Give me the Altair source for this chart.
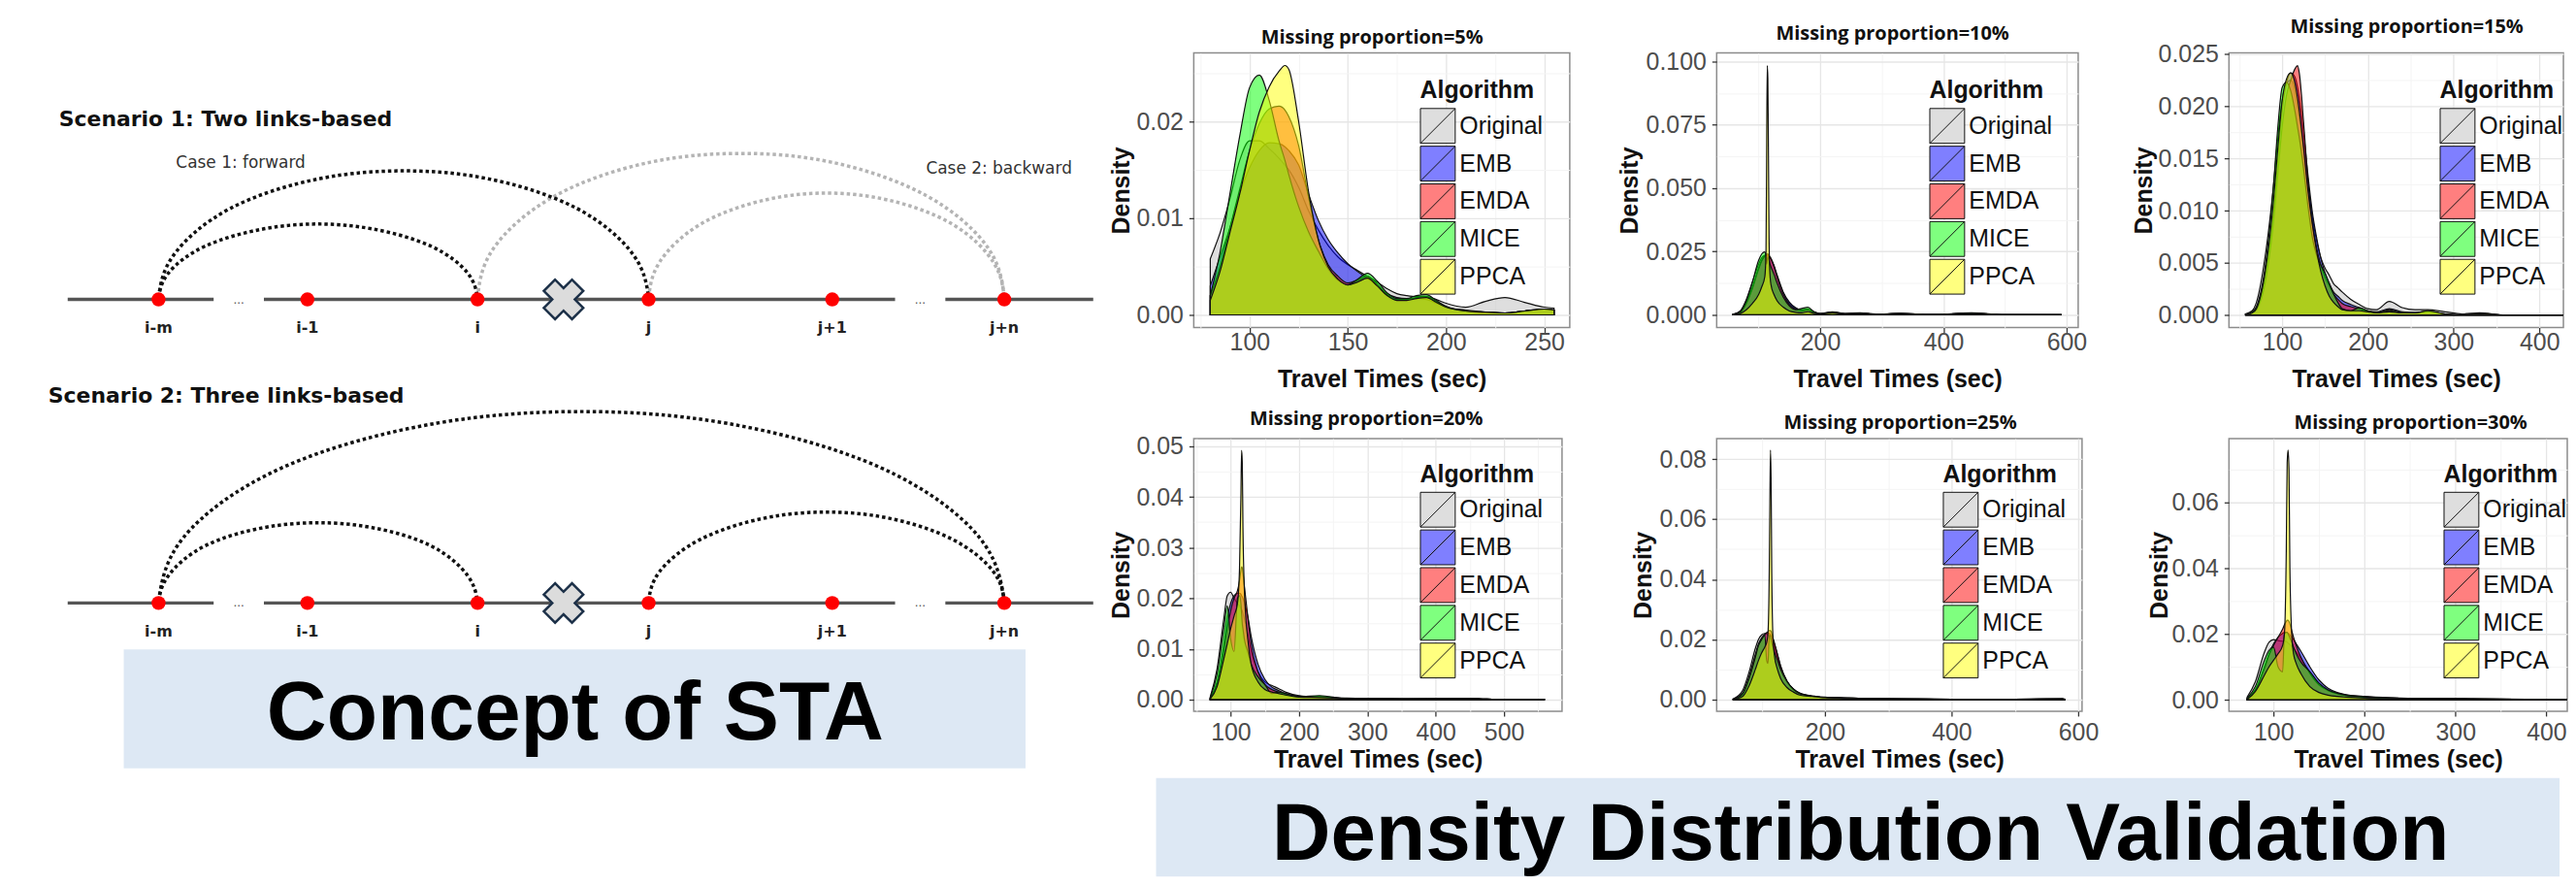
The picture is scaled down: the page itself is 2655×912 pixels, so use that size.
import altair as alt
import pandas as pd

# ---------------- density panels data ----------------
ALGS = ["Original", "EMB", "EMDA", "MICE", "PPCA"]
ALG_COLORS = ["#bebebe", "#0000ff", "#ff0000", "#00ff00", "#ffff00"]
ALG_KEY_COLORS = ["#dedede", "#7f7fff", "#ff7f7f", "#7fff7f", "#ffff7f"]

P1_X = [80, 85, 90, 95, 100, 105, 110, 115, 118, 120, 125, 130, 135, 140, 145, 150, 155, 160, 165, 170, 175, 180, 185, 190, 195, 200, 210, 220, 230, 240, 250, 255]
P1_ORIGINAL = [0.0058, 0.0085, 0.0120, 0.0160, 0.0180, 0.0180, 0.0172, 0.0162, 0.0155, 0.0150, 0.0132, 0.0108, 0.0088, 0.0072, 0.0060, 0.0052, 0.0046, 0.0040, 0.0034, 0.0027, 0.0022, 0.0020, 0.0019, 0.0019, 0.0016, 0.0012, 0.0008, 0.0014, 0.0018, 0.0013, 0.0008, 0.0007]
P1_EMB = [0.0030, 0.0060, 0.0090, 0.0125, 0.0152, 0.0170, 0.0178, 0.0177, 0.0174, 0.0170, 0.0155, 0.0125, 0.0098, 0.0078, 0.0064, 0.0053, 0.0045, 0.0038, 0.0030, 0.0022, 0.0018, 0.0017, 0.0017, 0.0016, 0.0012, 0.0008, 0.0005, 0.0003, 0.0002, 0.0004, 0.0006, 0.0005]
P1_EMDA = [0.0020, 0.0050, 0.0090, 0.0130, 0.0170, 0.0198, 0.0213, 0.0216, 0.0212, 0.0205, 0.0175, 0.0122, 0.0078, 0.0052, 0.0040, 0.0033, 0.0036, 0.0040, 0.0032, 0.0021, 0.0016, 0.0016, 0.0018, 0.0019, 0.0014, 0.0008, 0.0004, 0.0003, 0.0002, 0.0004, 0.0006, 0.0005]
P1_MICE = [0.0020, 0.0065, 0.0125, 0.0185, 0.0235, 0.0248, 0.0222, 0.0180, 0.0160, 0.0145, 0.0112, 0.0086, 0.0066, 0.0048, 0.0036, 0.0031, 0.0037, 0.0043, 0.0035, 0.0023, 0.0017, 0.0017, 0.0020, 0.0021, 0.0015, 0.0009, 0.0004, 0.0002, 0.0002, 0.0004, 0.0006, 0.0005]
P1_PPCA = [0.0015, 0.0045, 0.0085, 0.0125, 0.0170, 0.0210, 0.0236, 0.0252, 0.0258, 0.0254, 0.0200, 0.0128, 0.0078, 0.0050, 0.0037, 0.0031, 0.0034, 0.0038, 0.0030, 0.0020, 0.0015, 0.0015, 0.0017, 0.0018, 0.0013, 0.0008, 0.0004, 0.0003, 0.0002, 0.0004, 0.0006, 0.0005]

P2_X = [58, 70, 80, 90, 100, 105, 110, 112, 113, 114, 115, 116, 117, 118, 120, 125, 130, 140, 150, 160, 170, 180, 190, 200, 220, 240, 265, 290, 330, 380, 445, 500, 592]
P2_ORIGINAL = [0.0002, 0.0015, 0.0060, 0.0130, 0.0200, 0.0225, 0.0235, 0.0236, 0.0236, 0.0235, 0.0234, 0.0232, 0.0230, 0.0227, 0.0220, 0.0190, 0.0150, 0.0085, 0.0045, 0.0025, 0.0020, 0.0022, 0.0012, 0.0005, 0.0012, 0.0005, 0.0008, 0.0003, 0.0006, 0.0001, 0.0008, 0.0001, 0.0000]
P2_EMB = [0.0001, 0.0010, 0.0045, 0.0110, 0.0185, 0.0215, 0.0232, 0.0234, 0.0235, 0.0235, 0.0234, 0.0233, 0.0231, 0.0228, 0.0222, 0.0195, 0.0158, 0.0090, 0.0050, 0.0028, 0.0018, 0.0020, 0.0010, 0.0004, 0.0010, 0.0004, 0.0006, 0.0002, 0.0005, 0.0001, 0.0006, 0.0000, 0.0000]
P2_EMDA = [0.0001, 0.0010, 0.0045, 0.0105, 0.0180, 0.0212, 0.0232, 0.0238, 0.0240, 0.0241, 0.0240, 0.0238, 0.0235, 0.0230, 0.0222, 0.0190, 0.0150, 0.0082, 0.0040, 0.0022, 0.0016, 0.0020, 0.0010, 0.0004, 0.0010, 0.0004, 0.0006, 0.0002, 0.0005, 0.0001, 0.0006, 0.0000, 0.0000]
P2_MICE = [0.0001, 0.0012, 0.0055, 0.0130, 0.0215, 0.0240, 0.0248, 0.0230, 0.0200, 0.0215, 0.0230, 0.0225, 0.0215, 0.0205, 0.0190, 0.0160, 0.0125, 0.0070, 0.0035, 0.0020, 0.0025, 0.0030, 0.0012, 0.0004, 0.0010, 0.0004, 0.0006, 0.0002, 0.0005, 0.0001, 0.0006, 0.0000, 0.0000]
P2_PPCA = [0.0000, 0.0005, 0.0020, 0.0045, 0.0080, 0.0110, 0.0150, 0.0250, 0.0620, 0.0984, 0.0934, 0.0620, 0.0300, 0.0180, 0.0120, 0.0080, 0.0055, 0.0030, 0.0015, 0.0010, 0.0008, 0.0012, 0.0006, 0.0003, 0.0008, 0.0002, 0.0005, 0.0001, 0.0004, 0.0001, 0.0005, 0.0000, 0.0000]

P3_X = [57, 65, 70, 80, 90, 95, 100, 105, 110, 115, 118, 120, 125, 130, 135, 140, 145, 150, 155, 160, 165, 170, 180, 190, 200, 210, 225, 240, 255, 270, 290, 310, 330, 360, 400, 437]
P3_ORIGINAL = [0.0001, 0.0004, 0.0012, 0.0055, 0.0125, 0.0170, 0.0205, 0.0222, 0.0225, 0.0215, 0.0200, 0.0190, 0.0160, 0.0125, 0.0095, 0.0072, 0.0055, 0.0045, 0.0038, 0.0030, 0.0026, 0.0022, 0.0015, 0.0010, 0.0006, 0.0005, 0.0013, 0.0007, 0.0005, 0.0005, 0.0003, 0.0001, 0.0002, 0.0000, 0.0000, 0.0000]
P3_EMB = [0.0000, 0.0002, 0.0006, 0.0035, 0.0100, 0.0150, 0.0195, 0.0222, 0.0232, 0.0228, 0.0218, 0.0208, 0.0175, 0.0135, 0.0100, 0.0075, 0.0055, 0.0040, 0.0030, 0.0022, 0.0018, 0.0014, 0.0010, 0.0007, 0.0004, 0.0003, 0.0006, 0.0003, 0.0002, 0.0003, 0.0001, 0.0000, 0.0001, 0.0000, 0.0000, 0.0000]
P3_EMDA = [0.0000, 0.0002, 0.0005, 0.0030, 0.0090, 0.0135, 0.0180, 0.0210, 0.0225, 0.0236, 0.0239, 0.0232, 0.0185, 0.0130, 0.0090, 0.0065, 0.0048, 0.0036, 0.0028, 0.0020, 0.0015, 0.0011, 0.0008, 0.0006, 0.0003, 0.0002, 0.0005, 0.0002, 0.0002, 0.0003, 0.0001, 0.0000, 0.0001, 0.0000, 0.0000, 0.0000]
P3_MICE = [0.0000, 0.0003, 0.0008, 0.0045, 0.0125, 0.0180, 0.0218, 0.0223, 0.0215, 0.0195, 0.0180, 0.0170, 0.0140, 0.0105, 0.0075, 0.0058, 0.0048, 0.0040, 0.0030, 0.0020, 0.0012, 0.0006, 0.0004, 0.0007, 0.0004, 0.0002, 0.0004, 0.0002, 0.0002, 0.0004, 0.0001, 0.0000, 0.0001, 0.0000, 0.0000, 0.0000]
P3_PPCA = [0.0000, 0.0002, 0.0006, 0.0040, 0.0110, 0.0160, 0.0205, 0.0226, 0.0232, 0.0222, 0.0208, 0.0196, 0.0160, 0.0120, 0.0088, 0.0062, 0.0042, 0.0028, 0.0018, 0.0012, 0.0008, 0.0005, 0.0004, 0.0004, 0.0003, 0.0002, 0.0003, 0.0002, 0.0002, 0.0004, 0.0001, 0.0000, 0.0001, 0.0000, 0.0000, 0.0000]

P4_X = [70, 80, 90, 95, 100, 105, 110, 113, 115, 116, 117, 118, 120, 125, 130, 140, 150, 160, 170, 180, 200, 230, 270, 310, 360, 450, 500, 560]
P4_ORIGINAL = [0.0005, 0.0060, 0.0160, 0.0205, 0.0212, 0.0200, 0.0190, 0.0185, 0.0180, 0.0178, 0.0175, 0.0170, 0.0160, 0.0130, 0.0095, 0.0055, 0.0035, 0.0028, 0.0022, 0.0015, 0.0008, 0.0005, 0.0003, 0.0002, 0.0002, 0.0002, 0.0000, 0.0000]
P4_EMB = [0.0002, 0.0035, 0.0110, 0.0160, 0.0190, 0.0205, 0.0210, 0.0210, 0.0208, 0.0205, 0.0203, 0.0200, 0.0192, 0.0165, 0.0125, 0.0070, 0.0040, 0.0025, 0.0018, 0.0012, 0.0007, 0.0006, 0.0002, 0.0002, 0.0001, 0.0002, 0.0000, 0.0000]
P4_EMDA = [0.0002, 0.0030, 0.0095, 0.0140, 0.0175, 0.0200, 0.0215, 0.0235, 0.0255, 0.0262, 0.0260, 0.0250, 0.0225, 0.0165, 0.0110, 0.0055, 0.0030, 0.0020, 0.0015, 0.0010, 0.0006, 0.0006, 0.0002, 0.0002, 0.0001, 0.0002, 0.0000, 0.0000]
P4_MICE = [0.0003, 0.0050, 0.0140, 0.0185, 0.0120, 0.0095, 0.0200, 0.0205, 0.0190, 0.0170, 0.0150, 0.0140, 0.0120, 0.0095, 0.0070, 0.0045, 0.0030, 0.0012, 0.0015, 0.0012, 0.0006, 0.0008, 0.0002, 0.0002, 0.0001, 0.0002, 0.0000, 0.0000]
P4_PPCA = [0.0001, 0.0025, 0.0080, 0.0110, 0.0140, 0.0165, 0.0190, 0.0260, 0.0400, 0.0492, 0.0470, 0.0340, 0.0220, 0.0120, 0.0070, 0.0035, 0.0020, 0.0015, 0.0012, 0.0009, 0.0005, 0.0004, 0.0002, 0.0001, 0.0001, 0.0001, 0.0000, 0.0000]

P5_X = [55, 70, 80, 90, 95, 100, 105, 108, 110, 112, 113, 114, 115, 116, 118, 120, 125, 130, 140, 150, 160, 180, 200, 230, 270, 320, 400, 500, 575, 580]
P5_ORIGINAL = [0.0002, 0.0030, 0.0090, 0.0170, 0.0200, 0.0215, 0.0220, 0.0218, 0.0215, 0.0210, 0.0207, 0.0203, 0.0200, 0.0195, 0.0185, 0.0175, 0.0140, 0.0105, 0.0060, 0.0035, 0.0022, 0.0012, 0.0008, 0.0006, 0.0003, 0.0003, 0.0001, 0.0001, 0.0003, 0.0000]
P5_EMB = [0.0001, 0.0020, 0.0075, 0.0150, 0.0185, 0.0205, 0.0218, 0.0222, 0.0222, 0.0220, 0.0218, 0.0215, 0.0212, 0.0208, 0.0198, 0.0186, 0.0150, 0.0112, 0.0062, 0.0035, 0.0020, 0.0011, 0.0007, 0.0005, 0.0003, 0.0002, 0.0001, 0.0001, 0.0002, 0.0000]
P5_EMDA = [0.0001, 0.0018, 0.0070, 0.0145, 0.0180, 0.0200, 0.0215, 0.0222, 0.0226, 0.0229, 0.0230, 0.0229, 0.0226, 0.0220, 0.0205, 0.0190, 0.0150, 0.0110, 0.0060, 0.0034, 0.0020, 0.0011, 0.0007, 0.0005, 0.0003, 0.0002, 0.0001, 0.0001, 0.0002, 0.0000]
P5_MICE = [0.0001, 0.0020, 0.0070, 0.0140, 0.0180, 0.0200, 0.0215, 0.0130, 0.0120, 0.0210, 0.0215, 0.0210, 0.0200, 0.0190, 0.0175, 0.0160, 0.0130, 0.0100, 0.0060, 0.0035, 0.0020, 0.0011, 0.0007, 0.0005, 0.0003, 0.0002, 0.0001, 0.0001, 0.0002, 0.0000]
P5_PPCA = [0.0000, 0.0010, 0.0045, 0.0100, 0.0130, 0.0155, 0.0175, 0.0190, 0.0220, 0.0420, 0.0660, 0.0830, 0.0720, 0.0420, 0.0200, 0.0150, 0.0100, 0.0070, 0.0040, 0.0025, 0.0015, 0.0010, 0.0006, 0.0004, 0.0002, 0.0001, 0.0001, 0.0000, 0.0001, 0.0000]

P6_X = [71, 80, 90, 95, 100, 105, 110, 112, 114, 115, 116, 117, 118, 120, 122, 125, 130, 140, 150, 160, 170, 180, 200, 230, 260, 300, 330, 400, 452]
P6_ORIGINAL = [0.0008, 0.0055, 0.0145, 0.0175, 0.0183, 0.0180, 0.0178, 0.0178, 0.0177, 0.0175, 0.0172, 0.0170, 0.0168, 0.0162, 0.0155, 0.0145, 0.0125, 0.0085, 0.0050, 0.0030, 0.0020, 0.0015, 0.0010, 0.0006, 0.0004, 0.0004, 0.0003, 0.0001, 0.0000]
P6_EMB = [0.0003, 0.0030, 0.0100, 0.0140, 0.0170, 0.0190, 0.0202, 0.0205, 0.0205, 0.0204, 0.0202, 0.0200, 0.0197, 0.0190, 0.0183, 0.0170, 0.0148, 0.0100, 0.0060, 0.0035, 0.0022, 0.0015, 0.0009, 0.0005, 0.0004, 0.0003, 0.0002, 0.0001, 0.0000]
P6_EMDA = [0.0003, 0.0030, 0.0095, 0.0135, 0.0165, 0.0190, 0.0215, 0.0228, 0.0238, 0.0242, 0.0242, 0.0238, 0.0230, 0.0210, 0.0190, 0.0165, 0.0130, 0.0080, 0.0045, 0.0028, 0.0018, 0.0013, 0.0008, 0.0005, 0.0004, 0.0003, 0.0002, 0.0001, 0.0000]
P6_MICE = [0.0005, 0.0040, 0.0120, 0.0150, 0.0160, 0.0100, 0.0085, 0.0200, 0.0205, 0.0205, 0.0200, 0.0195, 0.0188, 0.0175, 0.0160, 0.0140, 0.0115, 0.0085, 0.0050, 0.0030, 0.0020, 0.0014, 0.0009, 0.0005, 0.0004, 0.0003, 0.0002, 0.0001, 0.0000]
P6_PPCA = [0.0001, 0.0025, 0.0075, 0.0100, 0.0120, 0.0140, 0.0165, 0.0200, 0.0450, 0.0720, 0.0759, 0.0700, 0.0400, 0.0200, 0.0140, 0.0110, 0.0080, 0.0040, 0.0022, 0.0014, 0.0010, 0.0008, 0.0005, 0.0003, 0.0002, 0.0002, 0.0001, 0.0000, 0.0000]

PANEL_TITLES = ["Missing proportion=5%", "Missing proportion=10%", "Missing proportion=15%",
                "Missing proportion=20%", "Missing proportion=25%", "Missing proportion=30%"]

# ---------------- concept diagram data (diagram units = page pixels) ----------------
NODE_LABELS = ["i-m", "i-1", "i", "j", "j+1", "j+n"]
NODE_X = [163, 317, 493, 670, 860, 1038]
LINK_Y = [307, 621]
LABEL_Y = [337, 651]
SEG_START = [69, 272, 977]
SEG_END = [220, 925, 1130]
ELLIPSIS_X = [246, 951]
MISSING_X = 582

ARC_IDS = ["A1", "A2", "A3", "A4", "B1", "B2", "B3"]
ARC_SCENARIO = [1, 1, 1, 1, 2, 2, 2]
ARC_KIND = ["solid", "solid", "faded", "faded", "solid", "solid", "solid"]
ARC_X = [
    [163, 178, 237, 330, 417, 503, 596, 655, 670],
    [163, 173, 211, 272, 328, 384, 445, 483, 493],
    [493, 509, 573, 672, 766, 859, 958, 1022, 1038],
    [670, 681, 724, 791, 854, 917, 984, 1027, 1038],
    [163, 189, 291, 451, 601, 750, 910, 1012, 1038],
    [163, 173, 211, 272, 328, 384, 445, 483, 493],
    [670, 681, 724, 791, 854, 917, 984, 1027, 1038],
]
ARC_Y = [
    [305, 262, 213, 182, 174, 182, 213, 262, 305],
    [305, 280, 252, 234, 229, 234, 252, 280, 305],
    [305, 255, 200, 165, 156, 165, 200, 255, 305],
    [305, 269, 229, 204, 197, 204, 229, 269, 305],
    [619, 553, 481, 435, 423, 435, 481, 553, 619],
    [619, 593, 562, 543, 538, 543, 562, 593, 619],
    [619, 589, 555, 533, 527, 533, 555, 589, 619],
]
SCENARIO_TITLES = ["Scenario 1: Two links-based", "Scenario 2: Three links-based"]
SCENARIO_TITLE_X = [60, 49]
SCENARIO_TITLE_Y = [121, 407]
CASE_TEXT = ["Case 1: forward", "Case 2: backward"]
CASE_X = [181, 957]
CASE_Y = [166, 172]
CONCEPT_TEXT = "Concept of STA"
CONCEPT_BOX = [127, 1060, 669, 792]
CONCEPT_TEXT_POS = [594, 762]
VALID_TEXT = "Density Distribution Validation"
VALID_BOX = [1195, 2647, 802, 904]
VALID_TEXT_POS = [1924, 887]

SANS = "Liberation Sans, Arial, sans-serif"
LEGEND_PATH = "M-1,-1H1V1H-1Z M-1,1L1,-1"
NOFRAME = alt.ViewBackground(stroke="transparent")


def minor_values(ticks, dom):
    step = ticks[1] - ticks[0]
    cands = [ticks[0] - step / 2] + [t + step / 2 for t in ticks]
    return [round(v, 6) for v in cands if dom[0] < v < dom[1]]


def density_panel(title, xs, series, xdom, ydom, xticks, yticks, yfmt, width, height,
                  legend_x, legend_y, y_title_x, x_label_pad, x_title_y, title_dx):
    xsc = alt.Scale(domain=xdom, nice=False, zero=False)
    ysc = alt.Scale(domain=ydom, nice=False, zero=False)
    legend = alt.Legend(
        title="Algorithm", orient="none", legendX=legend_x, legendY=legend_y,
        symbolType=LEGEND_PATH, symbolSize=1296, symbolStrokeColor="#111111",
        symbolStrokeWidth=1, symbolOpacity=1, labelFont=SANS, labelFontSize=25,
        labelColor="#111111", labelOffset=4, titleFont=SANS, titleFontSize=25,
        titleFontWeight="bold", titleColor="#111111", titlePadding=5, rowPadding=-6, padding=0)
    x_axis = alt.Axis(values=xticks, format="d", grid=True, gridColor="#e6e6e6", gridWidth=1.3,
                      domain=False, ticks=True, tickColor="#333333", tickSize=5, tickWidth=1.3,
                      labelFont=SANS, labelFontSize=25, labelColor="#4d4d4d",
                      labelPadding=x_label_pad, labelFlush=False, labelOverlap=False,
                      title="Travel Times (sec)", titleFont=SANS, titleFontSize=25,
                      titleFontWeight="bold", titleColor="#111111",
                      titleY=x_title_y, titleBaseline="alphabetic")
    y_axis = alt.Axis(values=yticks, format=yfmt, grid=True, gridColor="#e6e6e6", gridWidth=1.3,
                      domain=False, ticks=True, tickColor="#333333", tickSize=5, tickWidth=1.3,
                      labelFont=SANS, labelFontSize=25, labelColor="#4d4d4d", labelPadding=6,
                      labelFlush=False, labelOverlap=False,
                      title="Density", titleFont=SANS, titleFontSize=25, titleFontWeight="bold",
                      titleColor="#111111", titleX=y_title_x, titleBaseline="alphabetic")
    x_minor = alt.Axis(orient="top", values=minor_values(xticks, xdom), grid=True,
                       gridColor="#f4f4f4", gridWidth=1, labels=False, ticks=False,
                       domain=False, title=None, minExtent=0, maxExtent=0)
    y_minor = alt.Axis(orient="right", values=minor_values(yticks, ydom), grid=True,
                       gridColor="#f4f4f4", gridWidth=1, labels=False, ticks=False,
                       domain=False, title=None, minExtent=0, maxExtent=0)

    # legend keys (ggplot shows the 50% fills composited on white); rows carry no position
    keys = pd.DataFrame({"t": [None] * len(ALGS), "d": [None] * len(ALGS), "alg": ALGS})
    layers = [
        alt.Chart(keys).mark_square(filled=True, opacity=1, stroke="#111111", strokeWidth=1).encode(
            x=alt.X("t:Q", scale=xsc, axis=x_minor),
            y=alt.Y("d:Q", scale=ysc, axis=y_minor),
            color=alt.Color("alg:N", scale=alt.Scale(domain=ALGS, range=ALG_KEY_COLORS), legend=legend),
        )
    ]
    for i, (alg, col, vals) in enumerate(zip(ALGS, ALG_COLORS, series)):
        df = pd.DataFrame({"t": xs, "d": vals})
        layers.append(
            alt.Chart(df).mark_area(interpolate="monotone", fill=col, fillOpacity=0.5, stroke="#111111",
                                    strokeWidth=1.2, clip=True).encode(
                x=alt.X("t:Q", scale=xsc, axis=x_axis if i == 0 else None),
                y=alt.Y("d:Q", stack=None, scale=ysc, axis=y_axis if i == 0 else None),
            )
        )
    return alt.layer(*layers).resolve_axis(x="independent", y="independent").properties(
        width=width, height=height,
        title=alt.TitleParams(text=title, font="Open Sans", fontSize=20, fontWeight="bold",
                              color="#111111", anchor="middle", frame="group", dx=title_dx, offset=6),
        view=alt.ViewBackground(stroke="#8c8c8c", strokeWidth=1.5, fill="white"),
    )


p1 = density_panel(PANEL_TITLES[0], P1_X, [P1_ORIGINAL, P1_EMB, P1_EMDA, P1_MICE, P1_PPCA],
                   [71.6, 263], [-0.0013, 0.0271], [100, 150, 200, 250], [0, 0.01, 0.02], ".2f",
                   389, 284, 234, 27, -67, -2, 61, -10)
p2 = density_panel(PANEL_TITLES[1], P2_X, [P2_ORIGINAL, P2_EMB, P2_EMDA, P2_MICE, P2_PPCA],
                   [31.9, 618.9], [-0.005, 0.1034], [200, 400, 600], [0, 0.025, 0.05, 0.075, 0.1], ".3f",
                   374, 284, 220, 27, -82, -2, 61, -5)
p3 = density_panel(PANEL_TITLES[2], P3_X, [P3_ORIGINAL, P3_EMB, P3_EMDA, P3_MICE, P3_PPCA],
                   [38, 428], [-0.0012, 0.02512], [100, 200, 300, 400],
                   [0, 0.005, 0.01, 0.015, 0.02, 0.025], ".3f",
                   346, 284, 218, 27, -80, -2, 61, 11)
p4 = density_panel(PANEL_TITLES[3], P4_X, [P4_ORIGINAL, P4_EMB, P4_EMDA, P4_MICE, P4_PPCA],
                   [46, 585], [-0.0023, 0.0515], [100, 200, 300, 400, 500],
                   [0, 0.01, 0.02, 0.03, 0.04, 0.05], ".2f",
                   381, 282, 234, 25, -67, 5, 58, -12)
p5 = density_panel(PANEL_TITLES[4], P5_X, [P5_ORIGINAL, P5_EMB, P5_EMDA, P5_MICE, P5_PPCA],
                   [29, 606], [-0.0039, 0.0868], [200, 400, 600], [0, 0.02, 0.04, 0.06, 0.08], ".2f",
                   378, 282, 234, 25, -68, 5, 58, 1)
p6 = density_panel(PANEL_TITLES[5], P6_X, [P6_ORIGINAL, P6_EMB, P6_EMDA, P6_MICE, P6_PPCA],
                   [51, 423], [-0.0035, 0.0794], [100, 200, 300, 400], [0, 0.02, 0.04, 0.06], ".2f",
                   350, 282, 222, 25, -64, 5, 58, 13)


# ---------------- concept diagram ----------------
def diagram(scen, ydom, height, with_box):
    k = scen - 1
    xsc = alt.Scale(domain=[8, 1082], nice=False, zero=False)
    ysc = alt.Scale(domain=ydom, nice=False, zero=False, reverse=True)

    def X(f):
        return alt.X(f, type="quantitative", scale=xsc, axis=None)

    def Y(f):
        return alt.Y(f, type="quantitative", scale=ysc, axis=None)

    layers = []
    if with_box:
        box = pd.DataFrame({"x": [CONCEPT_BOX[0]], "x2": [CONCEPT_BOX[1]],
                            "y": [CONCEPT_BOX[2]], "y2": [CONCEPT_BOX[3]]})
        layers.append(alt.Chart(box).mark_rect(fill="#dde8f4").encode(
            x=X("x"), x2="x2", y=Y("y"), y2="y2"))
        ct = pd.DataFrame({"x": [CONCEPT_TEXT_POS[0]], "y": [CONCEPT_TEXT_POS[1]], "s": [CONCEPT_TEXT]})
        layers.append(alt.Chart(ct).mark_text(font=SANS, fontSize=86, fontWeight="bold", color="#000000",
                                              align="center", baseline="alphabetic").encode(
            x=X("x"), y=Y("y"), text="s:N"))
    else:
        anchor = pd.DataFrame({"x": [8], "x2": [20], "y": [8], "y2": [52]})
        layers.append(alt.Chart(anchor).mark_rect(fill="white").encode(
            x=X("x"), x2="x2", y=Y("y"), y2="y2"))

    seg = pd.DataFrame({"x": SEG_START, "x2": SEG_END, "y": [LINK_Y[k]] * len(SEG_START)})
    layers.append(alt.Chart(seg).mark_rule(color="#555555", strokeWidth=3.5).encode(
        x=X("x"), x2="x2", y=Y("y")))

    rows = []
    for aid, sc, kind, xs_, ys_ in zip(ARC_IDS, ARC_SCENARIO, ARC_KIND, ARC_X, ARC_Y):
        if sc != scen:
            continue
        for i, (a, b) in enumerate(zip(xs_, ys_)):
            rows.append({"arc": aid, "kind": kind, "o": i, "x": a, "y": b})
    arcs = pd.DataFrame(rows)
    for kind, col in [("faded", "#b4b4b4"), ("solid", "#111111")]:
        sub = arcs[arcs["kind"] == kind]
        if len(sub) == 0:
            continue
        layers.append(alt.Chart(sub).mark_line(interpolate="natural", color=col, strokeWidth=3.5,
                                               strokeDash=[3.5, 3]).encode(
            x=X("x"), y=Y("y"), detail="arc:N", order="o:Q"))

    nodes = pd.DataFrame({"x": NODE_X, "y": [LINK_Y[k]] * len(NODE_X), "lab": NODE_LABELS,
                          "ly": [LABEL_Y[k]] * len(NODE_X)})
    layers.append(alt.Chart(nodes).mark_circle(size=210, color="#ff0000", opacity=1).encode(
        x=X("x"), y=Y("y")))
    layers.append(alt.Chart(nodes).mark_text(font="DejaVu Sans", fontSize=16, fontWeight="bold",
                                             color="#222222", align="center", baseline="middle").encode(
        x=X("x"), y=Y("ly"), text="lab:N"))

    miss = pd.DataFrame({"x": [MISSING_X], "y": [LINK_Y[k]]})
    layers.append(alt.Chart(miss).mark_point(shape="cross", angle=45, size=1700, filled=True,
                                             fill="#dcdcdc", stroke="#1c3048", strokeWidth=2.5,
                                             opacity=1).encode(x=X("x"), y=Y("y")))

    dots = pd.DataFrame({"x": ELLIPSIS_X, "y": [LINK_Y[k]] * len(ELLIPSIS_X), "s": ["..."] * len(ELLIPSIS_X)})
    layers.append(alt.Chart(dots).mark_text(font="DejaVu Sans", fontSize=12, color="#555555",
                                            align="center", baseline="middle").encode(
        x=X("x"), y=Y("y"), text="s:N"))

    st = pd.DataFrame({"x": [SCENARIO_TITLE_X[k]], "y": [SCENARIO_TITLE_Y[k]], "s": [SCENARIO_TITLES[k]]})
    layers.append(alt.Chart(st).mark_text(font="DejaVu Sans", fontSize=22, fontWeight="bold",
                                          color="#111111", align="left", baseline="middle").encode(
        x=X("x"), y=Y("y"), text="s:N"))

    if scen == 1:
        cs = pd.DataFrame({"x": CASE_X, "y": CASE_Y, "s": CASE_TEXT})
        layers.append(alt.Chart(cs).mark_text(font="DejaVu Sans", fontSize=17, color="#333333",
                                              align="left", baseline="middle").encode(
            x=X("x"), y=Y("y"), text="s:N"))

    return alt.layer(*layers).properties(width=1074, height=height, view=NOFRAME)


diag_top = diagram(1, [52, 376], 324, False)
diag_bot = diagram(2, [451, 733], 282, True)

# ---------------- "Density Distribution Validation" banner ----------------
bx = alt.Scale(domain=[8, 1082], nice=False, zero=False)
by = alt.Scale(domain=[808, 904], nice=False, zero=False, reverse=True)
vbox = pd.DataFrame({"x": [VALID_BOX[0]], "x2": [VALID_BOX[1]], "y": [VALID_BOX[2]], "y2": [VALID_BOX[3]]})
vtxt = pd.DataFrame({"x": [VALID_TEXT_POS[0]], "y": [VALID_TEXT_POS[1]], "s": [VALID_TEXT]})
banner = alt.layer(
    alt.Chart(vbox).mark_rect(fill="#dde8f4").encode(
        x=alt.X("x:Q", scale=bx, axis=None), x2="x2",
        y=alt.Y("y:Q", scale=by, axis=None), y2="y2"),
    alt.Chart(vtxt).mark_text(font=SANS, fontSize=84, fontWeight="bold", color="#000000",
                              align="center", baseline="alphabetic").encode(
        x=alt.X("x:Q", scale=bx, axis=None), y=alt.Y("y:Q", scale=by, axis=None), text="s:N"),
).properties(width=1074, height=96, view=NOFRAME)

chart = alt.concat(
    diag_top, p1, p2, p3,
    diag_bot, p4, p5, p6,
    banner,
    columns=4,
    spacing={"row": 75, "column": 152},
    align={"row": "each", "column": "none"},
    bounds="flush",
).resolve_scale(
    x="independent", y="independent", color="independent"
).resolve_legend(color="independent").properties(padding=0, background="white")

chart.save("out.html", embed_options={"renderer": "svg", "actions": False})
